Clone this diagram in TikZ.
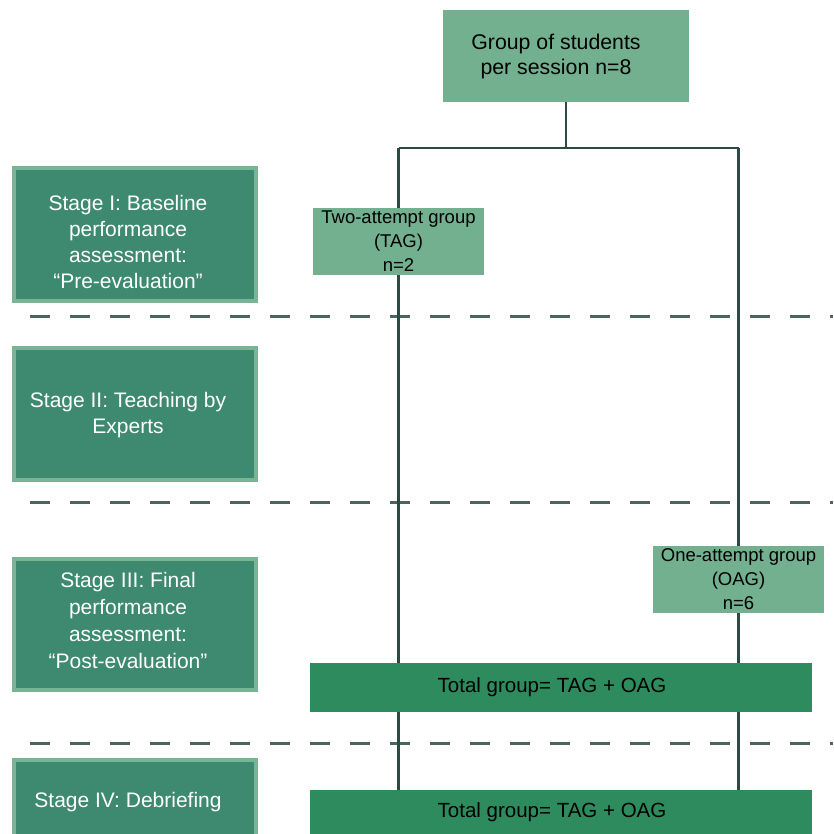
\documentclass[tikz,border=0pt]{standalone}
\usepackage{fontspec}
\setmainfont{Liberation Sans}
\usetikzlibrary{calc}
\definecolor{stagegreen}{HTML}{3E8A70}
\definecolor{stageedge}{HTML}{79B595}
\definecolor{lightgreen}{HTML}{72B08F}
\definecolor{totalgreen}{HTML}{2E8B5E}
\definecolor{linkgray}{HTML}{2C4A44}
\definecolor{dashgray}{HTML}{4A665E}
\tikzset{
	stagebox/.style={fill=stagegreen, draw=stageedge, line width=3.5pt, inner sep=0pt, minimum width=242pt},
	stagetext/.style={text=white, align=center, inner sep=0pt, xshift=-7pt, font=\fontsize{21}{26}\selectfont},
	groupbox/.style={fill=lightgreen, text=black, align=center, inner sep=0pt, minimum width=171pt, minimum height=67pt, font=\fontsize{18.5}{24}\selectfont},
	totalbox/.style={fill=totalgreen, inner sep=0pt, minimum width=502pt, minimum height=49pt},
	totaltext/.style={text=black, inner sep=0pt, xshift=-9pt, font=\fontsize{20.5}{24}\selectfont},
	sepline/.style={draw=dashgray, line width=3pt, dash pattern=on 20pt off 20pt},
	link/.style={draw=linkgray, line width=2.5pt}
}

\begin{document}
\begin{tikzpicture}[x=1pt, y=-1pt]
			%%%%% START %%%%%
			\useasboundingbox (0, 0) rectangle (833, 834);
			
			\draw[sepline] (30, 316) -- (833, 316);
			\draw[sepline] (30, 502) -- (833, 502);
			\draw[sepline] (30, 743) -- (833, 743);
			
			\node[stagebox, minimum height=133pt, label={[stagetext, yshift=-7pt]center:{Stage I: Baseline\\performance\\assessment:\\``Pre-evaluation''}}] (stageI) at (135, 234.5) {};
			\node[stagebox, minimum height=132pt, label={[stagetext, yshift=-1pt]center:{Stage II: Teaching by\\Experts}}] (stageII) at (135, 414) {};
			\node[stagebox, minimum height=131pt, label={[stagetext, yshift=4pt, font=\fontsize{21}{27}\selectfont]center:{Stage III: Final\\performance\\assessment:\\``Post-evaluation''}}] (stageIII) at (135, 624.5) {};
			\node[stagebox, minimum height=84pt, label={[stagetext]center:{Stage IV: Debriefing}}] (stageIV) at (135, 802) {};
			
			\node[fill=lightgreen, inner sep=0pt, minimum width=246pt, minimum height=92pt,
				label={[text=black, align=center, inner sep=0pt, xshift=-10pt, font=\fontsize{21.3}{25}\selectfont]center:{Group of students\\per session n=8}}] (top) at (566, 56) {};
			\coordinate (split) at (566, 148);
			\coordinate (lsplit) at (398.5, 148);
			\coordinate (rsplit) at (738.5, 148);
			
			\node[groupbox] (tag) at (398.5, 241.5) {Two-attempt group\\(TAG)\\n=2};
			\node[groupbox] (oag) at (738.5, 579.5) {One-attempt group\\(OAG)\\n=6};
			
			\node[totalbox, label={[totaltext]center:{Total group= TAG + OAG}}] (totI) at (561, 687.5) {};
			\node[totalbox, label={[totaltext, yshift=2pt]center:{Total group= TAG + OAG}}] (totII) at (561, 814.5) {};
			
			\draw[link] (top.south -| split) -- (split);
			\draw[link] (lsplit) -- (rsplit);
			\draw[link] (lsplit) -- (tag.north);
			\draw[link] (rsplit) -- (oag.north);
			\draw[link] (tag.south) -- (totI.north -| tag);
			\draw[link] (oag.south) -- (totI.north -| oag);
			\draw[link] (totI.south -| tag) -- (totII.north -| tag);
			\draw[link] (totI.south -| oag) -- (totII.north -| oag);
			%%%%% END %%%%%
\end{tikzpicture}
\end{document}
